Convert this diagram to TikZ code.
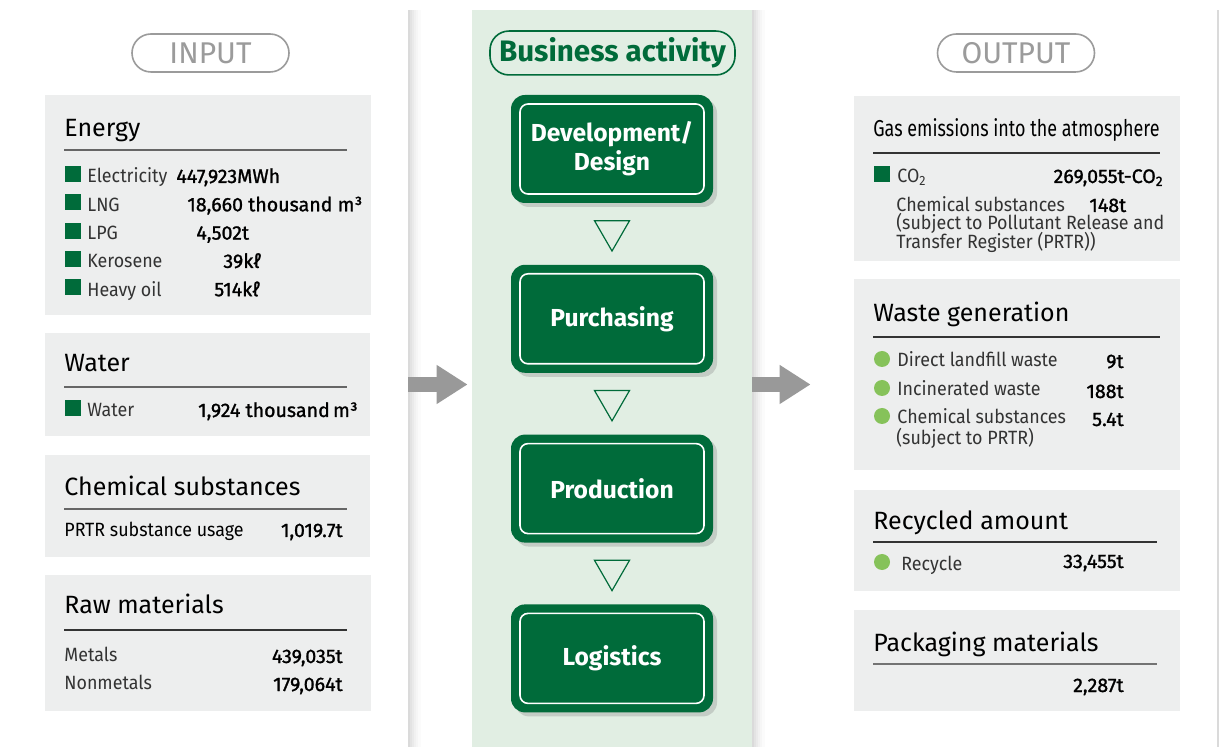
\documentclass[tikz,border=0pt]{standalone}
\usepackage{fontspec}
\setmainfont{Fira Sans}
\newfontfamily\condfont[FakeStretch=0.78]{Fira Sans}
\newfontfamily\itemfont[FakeStretch=0.93]{Fira Sans}
\newfontfamily\valfont[FakeBold=1.2]{Fira Sans}
\usetikzlibrary{positioning,fit,calc,shadows,shapes.geometric,arrows.meta}
\definecolor{bizgreen}{HTML}{006B3A}
\definecolor{bizbg}{HTML}{E1EEE3}
\definecolor{boxgray}{HTML}{EDEEEE}
\definecolor{dotgreen}{HTML}{86C25A}
\definecolor{pillgray}{HTML}{9B9B9B}
\definecolor{arrowgray}{HTML}{999999}
\definecolor{labelgray}{HTML}{333333}
\tikzset{
softshadow/.style={
  drop shadow={shadow xshift=1pt,shadow yshift=0pt,opacity=.08},
  drop shadow={shadow xshift=2pt,shadow yshift=0pt,opacity=.07},
  drop shadow={shadow xshift=3pt,shadow yshift=0pt,opacity=.06},
  drop shadow={shadow xshift=4pt,shadow yshift=0pt,opacity=.05},
  drop shadow={shadow xshift=5pt,shadow yshift=0pt,opacity=.04},
  drop shadow={shadow xshift=6.5pt,shadow yshift=0pt,opacity=.03}},
panel/.style={fill=white,inner sep=0pt,softshadow},
databox/.style={fill=boxgray,inner sep=0pt},
pill/.style={rounded corners=9.5pt,draw=pillgray,line width=0.8pt,
  minimum width=78.5pt,minimum height=19pt,text=pillgray,
  font=\fontsize{15}{15}\selectfont},
title/.style={anchor=base west,inner sep=0pt,font=\fontsize{12.5}{14}\selectfont},
gastitle/.style={title,font=\condfont\fontsize{11.5}{13}\selectfont},
rule/.style={line width=0.7pt,draw=black!80},
item/.style={anchor=base west,inner sep=0pt,text=labelgray,
  font=\itemfont\fontsize{9.6}{11}\selectfont},
plain/.style={item,text=black},
value/.style={anchor=base west,inner sep=0pt,font=\valfont\fontsize{9.8}{11}\selectfont},
valueR/.style={value,anchor=base east},
sq/.style={fill=bizgreen,minimum size=8pt,inner sep=0pt},
dot/.style={circle,fill=dotgreen,minimum size=8pt,inner sep=0pt},
procbox/.style={fill=bizgreen,rounded corners=7pt,minimum width=101pt,
  minimum height=54pt,text=white,align=center,
  font=\bfseries\fontsize{12.3}{14.5}\selectfont,
  drop shadow={shadow xshift=2pt,shadow yshift=-2pt,opacity=.3},
  path picture={\draw[white,line width=0.8pt,rounded corners=4pt]
    ([shift={(4.5pt,4.5pt)}]path picture bounding box.south west) rectangle
    ([shift={(-4.5pt,-4.5pt)}]path picture bounding box.north east);}},
flowtri/.style={regular polygon,regular polygon sides=3,shape border rotate=180,
  minimum size=20.2pt,inner sep=0pt,draw=bizgreen,line width=0.6pt},
bigarrow/.style={draw=arrowgray,line width=7.5pt,
  -{Triangle[length=15.5pt,width=18.5pt]}},
}

\begin{document}
\begin{tikzpicture}[x=0.5pt,y=-0.5pt,node distance=30.5pt]
\useasboundingbox (0,0) rectangle (1219,747);
\clip (0,0) rectangle (1219,747);

% the three columns
\node[panel,fit={(7,10) (408,790)}] (inpanel) {};
\node[panel,fill=bizbg,fit={(472,10) (752,790)}] (bizpanel) {};
\node[panel,fit={(816,10) (1217,790)}] (outpanel) {};

\node[pill] (inputpill) at (210.5,53) {INPUT};
\node[pill] (outputpill) at (1016,53) {OUTPUT};
\node[pill,draw=bizgreen,text=bizgreen,minimum width=122.5pt,
  font=\bfseries\fontsize{14.8}{15}\selectfont] (bizpill) at (612.5,53) {Business activity};

% INPUT
\node[databox,fit={(45,95) (371,315)}] (energybox) {};
\node[title] (energyttl) at (64,137) {Energy};
\draw[rule,draw=black!60] (64,150) -- (347,150);
\foreach \lab/\val/\vx [count=\i] in {Electricity/{447,923MWh}/176,
    LNG/{18,660 thousand m³}/187, LPG/{4,502t}/196,
    Kerosene/{39kℓ}/223, Heavy oil/{514kℓ}/214}{
  \node[sq] (ensq\i) at (73,{174+28.3*(\i-1)}) {};
  \node[item] (enlab\i) at (87,{183+28.3*(\i-1)}) {\lab};
  \node[value] (enval\i) at (\vx,{183+28.3*(\i-1)}) {\val};
}

\node[databox,fit={(45,333) (370,436)}] (waterbox) {};
\node[title] (waterttl) at (64,372) {Water};
\draw[rule,draw=black!60] (64,387) -- (347,387);
\node[sq] (watersq) at (73,408) {};
\node[item] (waterlab) at (87,417) {Water};
\node[valueR] (waterval) at (358,417) {1,924 thousand\,m³};

\node[databox,fit={(45,455) (370,557)}] (chembox) {};
\node[title] (chemttl) at (64,496) {Chemical substances};
\draw[rule,draw=black!60] (64,509) -- (347,509);
\node[plain] (chemlab) at (64,537) {PRTR substance usage};
\node[valueR] (chemval) at (343,537) {1,019.7t};

\node[databox,fit={(45,575) (371,711)}] (rawbox) {};
\node[title] (rawttl) at (64,613) {Raw materials};
\draw[rule] (64,630) -- (347,630);
\node[item] (metlab) at (64,661) {Metals};
\node[valueR] (metval) at (343,663) {439,035t};
\node[item] (nonmetlab) at (64,689) {Nonmetals};
\node[valueR] (nonmetval) at (343,691) {179,064t};

% business activity
\node[procbox] (devbox) at (612,149) {Development/\\Design};
\node[procbox,below=of devbox] (purbox) {Purchasing};
\node[procbox,below=of purbox] (prodbox) {Production};
\node[procbox,below=of prodbox] (logbox) {Logistics};
\node[flowtri] (tri1) at ($(devbox.south)!.45!(purbox.north)$) {};
\node[flowtri] (tri2) at ($(purbox.south)!.45!(prodbox.north)$) {};
\node[flowtri] (tri3) at ($(prodbox.south)!.45!(logbox.north)$) {};

% arrows between columns
\coordinate (flowrow) at (0,384.5);
\draw[bigarrow] (inpanel.east |- flowrow) -- ($(bizpanel.west |- flowrow)+(-4,0)$);
\draw[bigarrow] (bizpanel.east |- flowrow) -- ($(outpanel.west |- flowrow)+(-5,0)$);

% OUTPUT
\node[databox,fit={(854,96) (1180,261)}] (gasbox) {};
\node[gastitle] (gasttl) at (873,137) {Gas emissions into the atmosphere};
\draw[rule] (873,153) -- (1160,153);
\node[sq] (co2sq) at (882,174) {};
\node[item] (co2lab) at (897,183) {CO\textsubscript{2}};
\node[valueR] (co2val) at (1164,183) {269,055t-CO\textsubscript{2}};
\node[item] (gaschem1) at (896,212) {Chemical substances};
\node[value] (gaschemval) at (1089,212) {148t};
\node[item] (gaschem2) at (896,230) {(subject to Pollutant Release and};
\node[item] (gaschem3) at (896,249) {Transfer Register (PRTR))};

\node[databox,fit={(854,279) (1180,470)}] (wastebox) {};
\node[title] (wastettl) at (873,322) {Waste generation};
\draw[rule] (873,337) -- (1160,337);
\node[dot] (wdot1) at (882,359) {};
\node[item] (wlab1) at (897,367) {Direct landfill waste};
\node[valueR] (wval1) at (1124,368) {9t};
\node[dot] (wdot2) at (882,388) {};
\node[item] (wlab2) at (897,396) {Incinerated waste};
\node[valueR] (wval2) at (1124,398) {188t};
\node[dot] (wdot3) at (882,416) {};
\node[item] (wlab3) at (897,424) {Chemical substances};
\node[item] (wlab3b) at (896,445) {(subject to PRTR)};
\node[valueR] (wval3) at (1124,426) {5.4t};

\node[databox,fit={(854,490) (1180,591)}] (recbox) {};
\node[title] (recttl) at (873,530) {Recycled amount};
\draw[rule] (873,542) -- (1157,542);
\node[dot] (recdot) at (882,562) {};
\node[item] (reclab) at (901,570) {Recycle};
\node[valueR] (recval) at (1124,568) {33,455t};

\node[databox,fit={(854,610) (1180,711)}] (packbox) {};
\node[title] (packttl) at (873,651) {Packaging materials};
\draw[rule,draw=black!55] (873,664) -- (1157,664);
\node[valueR] (packval) at (1124,692) {2,287t};
\end{tikzpicture}
\end{document}
